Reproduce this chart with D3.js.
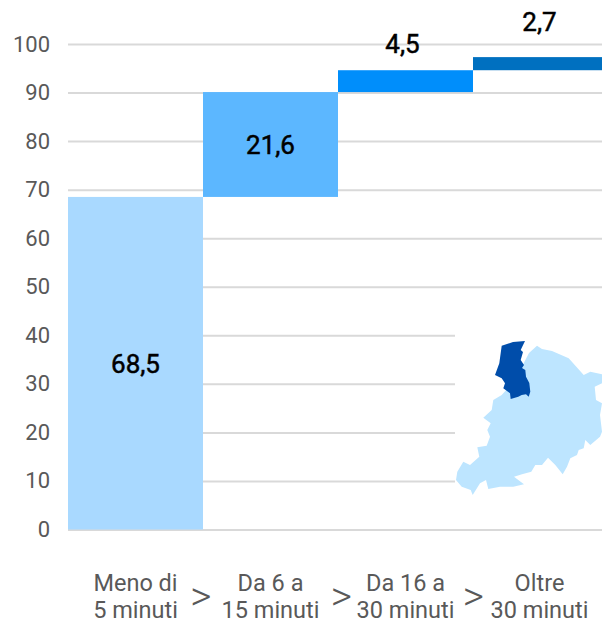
<!DOCTYPE html>
<html><head><meta charset="utf-8">
<script src="https://cdn.jsdelivr.net/npm/d3@7/dist/d3.min.js"></script>
<style>html,body{margin:0;padding:0;background:#fff;overflow:hidden}svg{display:block}text{font-family:Roboto,"Liberation Sans",sans-serif}</style>
</head><body><svg id="c" width="602" height="620"></svg>
<script>
const categories = [["Meno di","5 minuti"],["Da 6 a","15 minuti"],["Da 16 a","30 minuti"],["Oltre","30 minuti"]];
const values = [68.5,21.6,4.5,2.7];
const valueLabels = ["68,5","21,6","4,5","2,7"];
const barColors = ["#A9D9FF","#5CB7FF","#008EFB","#0070C0"];
const yTicks = [0,10,20,30,40,50,60,70,80,90,100];
// decorative inset map outlines
const mapLight = [[529,353],[537,345.7],[542,349],[552,351],[568.7,358.3],[583.7,375],[590.3,371.7],[602,374.3],[602,383.3],[594.7,386.7],[596,400],[602,403.3],[600,415],[602,431.7],[600,436.7],[590.3,445],[585.3,440],[583.7,448.3],[578.7,450],[577,455],[570.3,458.3],[567,466.7],[562.7,474.3],[555.3,465],[548,457.7],[542,465],[535.3,465],[531.3,471.7],[522,474.3],[514,476.7],[524,484.3],[513.3,486.7],[500,486.7],[488.3,489],[486,480],[480,483.3],[472.7,495],[470.7,490],[461.7,486.7],[456,480],[457.3,471.7],[463.3,461.7],[470,465],[479.3,456.7],[477.3,447.3],[486.7,445.7],[490,436.7],[487.3,430],[490.7,423.3],[483.3,417.7],[491.7,410],[493.3,400],[501.7,395],[515,380]];
const mapDark = [[501.7,345.7],[513,342],[525,341],[520.7,350],[523,352],[520.7,360],[524,365],[522,368],[525.3,370],[526,376.7],[529.3,383],[530.3,391.7],[528.7,396.7],[526,394.3],[521.7,395],[518.3,396.7],[510.7,399],[510,393.3],[503.3,388.3],[505,383.3],[501.7,378.3],[495,375],[499.3,363.3]];

const svg = d3.select("#c");
const x = d3.scaleBand().domain(d3.range(categories.length)).range([68,608]);
const y = d3.scaleLinear().domain([0,100]).range([529.5,44]);

const axis = svg.append("g").attr("transform","translate(68,0)")
  .call(d3.axisLeft(y).tickValues(yTicks).tickSize(-534).tickPadding(18));
axis.select(".domain").remove();
axis.selectAll("line").attr("stroke","#D9D9D9").attr("stroke-width",2);
axis.selectAll("text").attr("fill","#595959").attr("font-size",22).attr("font-family",'Roboto');

// white backing of the inset map hides the lower grid lines
svg.append("rect").attr("x",455).attr("y",y(47)).attr("width",147).attr("height",y(2)-y(47)).attr("fill","#fff");

const starts = d3.cumsum(values);
svg.selectAll("rect.bar").data(values).join("rect").attr("class","bar")
  .attr("x",(d,i)=>x(i)).attr("width",x.bandwidth())
  .attr("y",(d,i)=>y(starts[i])).attr("height",d=>y(0)-y(d))
  .attr("fill",(d,i)=>barColors[i]);

const labelAbove = [null,null,27,35];
const labelDx = [0,0,-3,-1];
svg.selectAll("text.val").data(values).join("text").attr("class","val")
  .attr("x",(d,i)=>x(i)+x.bandwidth()/2+labelDx[i])
  .attr("y",(d,i)=>labelAbove[i]===null ? y(starts[i]-d/2) : y(starts[i])-labelAbove[i])
  .attr("dy","0.36em").attr("text-anchor","middle").attr("font-size",26).attr("fill","#000")
  .attr("stroke","#000").attr("stroke-width",0.5)
  .text((d,i)=>valueLabels[i]);

const g = svg.selectAll("g.cat").data(categories).join("g").attr("class","cat")
  .attr("transform",(d,i)=>`translate(${i===3?539.5:x(i)+x.bandwidth()/2},0)`);
g.selectAll("text").data(d=>d).join("text").attr("text-anchor","middle")
  .attr("y",(d,i)=>590.5+i*27).attr("font-size",23.5).attr("fill","#595959").text(d=>d);

svg.selectAll("text.gt").data([201,341.5,473.5]).join("text").attr("class","gt")
  .attr("x",d=>d).attr("y",610).attr("text-anchor","middle").attr("font-size",41).attr("font-weight",300).attr("fill","#595959").text(">");

const mx = d3.scaleIdentity(), my = d3.scaleIdentity();
const line = d3.line().x(d=>mx(d[0])).y(d=>my(d[1])).curve(d3.curveLinearClosed);
svg.append("path").attr("d",line(mapLight)).attr("fill","#BDE5FF");
svg.append("path").attr("d",line(mapDark)).attr("fill","#004DAA");
</script></body></html>
